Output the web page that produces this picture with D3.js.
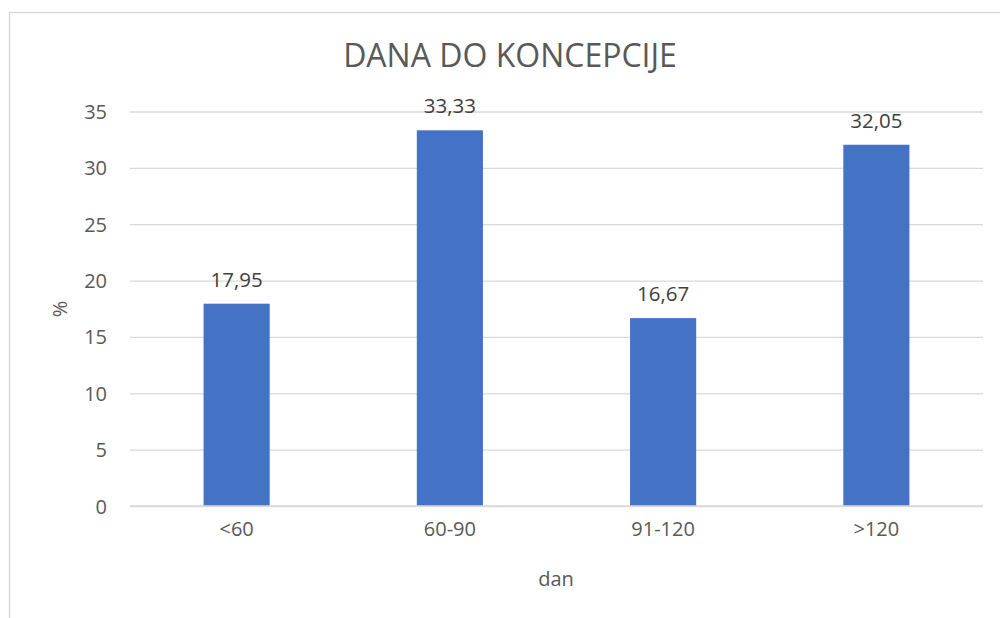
<!DOCTYPE html>
<html><head><meta charset="utf-8">
<script src="https://cdn.jsdelivr.net/npm/d3@7"></script>
<style>body{margin:0;background:#fff}svg{display:block}text{font-family:"Open Sans",sans-serif;fill:#595959}</style>
</head><body>
<svg id="c" width="1000" height="618"></svg>
<script>
const categories = ["<60", "60-90", "91-120", ">120"];
const values = [17.95, 33.33, 16.67, 32.05];
const valueLabels = ["17,95", "33,33", "16,67", "32,05"];
const yTicks = [0, 5, 10, 15, 20, 25, 30, 35];
const title = "DANA DO KONCEPCIJE";
const xTitle = "dan";
const yTitle = "%";

const svg = d3.select("#c");
svg.append("rect").attr("x", 9.5).attr("y", 12.5).attr("width", 1010).attr("height", 620)
  .attr("fill", "none").attr("stroke", "#D9D9D9").attr("stroke-width", 1.5);

const L = 130, R = 983, T = 111.5, B = 506;
const x = d3.scaleBand().domain(categories).range([L, R]).paddingInner(0.69).paddingOuter(0.345);
const y = d3.scaleLinear().domain([0, 35]).range([B, T]);

const yAxis = svg.append("g").attr("transform", `translate(${L},0)`)
  .call(d3.axisLeft(y).tickValues(yTicks).tickSize(-(R - L)).tickPadding(23));
yAxis.select(".domain").remove();
yAxis.selectAll("line").attr("stroke", "#D9D9D9").attr("stroke-width", 1.3);
yAxis.selectAll("text").style("font-size", "20px").style("fill", "#595959").attr("dy", "0.35em");

svg.selectAll("rect.bar").data(values).join("rect").attr("class", "bar")
  .attr("x", (d, i) => x(categories[i])).attr("width", x.bandwidth())
  .attr("y", d => y(d)).attr("height", d => B - y(d)).attr("fill", "#4472C4");

svg.append("line").attr("x1", L).attr("x2", R).attr("y1", B).attr("y2", B)
  .attr("stroke", "#D9D9D9").attr("stroke-width", 1.3);

svg.selectAll("text.vl").data(values).join("text").attr("class", "vl")
  .attr("x", (d, i) => x(categories[i]) + x.bandwidth() / 2).attr("y", d => y(d) - 17)
  .attr("text-anchor", "middle").style("font-size", "20.5px").style("fill", "#404040")
  .text((d, i) => valueLabels[i]);

const xAxis = svg.append("g").attr("transform", `translate(0,${B})`)
  .call(d3.axisBottom(x).tickSize(0).tickPadding(16));
xAxis.select(".domain").remove();
xAxis.selectAll("text").style("font-size", "20px").style("fill", "#595959");

svg.append("text").attr("x", 510).attr("y", 67).attr("text-anchor", "middle")
  .style("font-size", "32px").text(title);
svg.append("text").attr("x", 556).attr("y", 586).attr("text-anchor", "middle")
  .style("font-size", "20px").text(xTitle);
svg.append("text").attr("transform", "translate(67,309) rotate(-90)").attr("text-anchor", "middle")
  .style("font-size", "20px").text(yTitle);
</script>
</body></html>
